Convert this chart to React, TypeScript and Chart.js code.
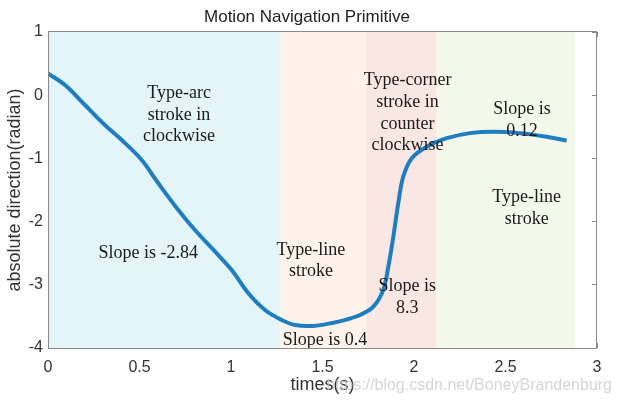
import React, { useEffect, useRef } from "react";
import { Chart, registerables } from "chart.js";

Chart.register(...registerables);

const timeValues = [0, 0.093, 0.202, 0.311, 0.403, 0.512, 0.603, 0.712, 0.803, 0.913, 1.004, 1.095, 1.186, 1.277, 1.35, 1.45, 1.56, 1.63, 1.705, 1.778, 1.832, 1.86, 1.887, 1.914, 1.941, 1.987, 2.069, 2.179, 2.306, 2.433, 2.579, 2.725, 2.834];
const directionValues = [0.346, 0.161, -0.155, -0.472, -0.709, -1.025, -1.394, -1.816, -2.133, -2.476, -2.766, -3.134, -3.399, -3.557, -3.636, -3.65, -3.6, -3.55, -3.478, -3.347, -3.08, -2.71, -2.24, -1.71, -1.29, -1.0, -0.815, -0.68, -0.6, -0.577, -0.6, -0.657, -0.72];

const regionStarts = [0, 1.27, 1.74, 2.12];
const regionEnds = [1.27, 1.74, 2.12, 2.88];
const regionColors = ["#E3F5F9", "#FEF3EB", "#F9E7E3", "#F3F8EB"];

const noteTexts = [
  ["Type-arc", "stroke in", "clockwise"],
  ["Slope is -2.84"],
  ["Type-line", "stroke"],
  ["Slope is 0.4"],
  ["Type-corner", "stroke in", "counter", "clockwise"],
  ["Slope is", "8.3"],
  ["Slope is", "0.12"],
  ["Type-line", "stroke"],
];
const noteX = [0.716, 0.548, 1.437, 1.514, 1.965, 1.963, 2.59, 2.616];
const noteY = [0.03, -2.5, -2.45, -3.87, 0.23, -3.03, -0.22, -1.616];

const xTicks = [0, 0.5, 1, 1.5, 2, 2.5, 3];
const yTicks = [-4, -3, -2, -1, 0, 1];

const titleText = "Motion Navigation Primitive";
const xLabel = "times(s)";
const yLabel = "absolute direction(radian)";
const watermark = "https://blog.csdn.net/BoneyBrandenburg";

const axisColor = "#333333";
const boxColor = "#8a8a8a";
const sans = '"Liberation Sans", Arial, sans-serif';

export default function App() {
  const ref = useRef<HTMLCanvasElement | null>(null);
  useEffect(() => {
    document.body.style.margin = "0";
    const canvas = ref.current!;
    const bgPlugin = {
      id: "bgRegions",
      beforeDatasetsDraw(chart: any) {
        const { ctx, chartArea, scales } = chart;
        ctx.save();
        for (let i = 0; i < regionStarts.length; i++) {
          const x1 = scales.x.getPixelForValue(regionStarts[i]);
          const x2 = scales.x.getPixelForValue(regionEnds[i]);
          ctx.fillStyle = regionColors[i];
          ctx.fillRect(x1, chartArea.top, x2 - x1, chartArea.bottom - chartArea.top);
        }
        ctx.restore();
      },
    };
    const textPlugin = {
      id: "notes",
      afterDatasetsDraw(chart: any) {
        const { ctx, scales, chartArea } = chart;
        ctx.save();
        ctx.font = '18px "Liberation Serif", "Times New Roman", serif';
        ctx.fillStyle = "#1a1a1a";
        ctx.textAlign = "center";
        ctx.textBaseline = "middle";
        for (let i = 0; i < noteTexts.length; i++) {
          const cx = scales.x.getPixelForValue(noteX[i]);
          const cy = scales.y.getPixelForValue(noteY[i]);
          noteTexts[i].forEach((t, j) => ctx.fillText(t, cx, cy + j * 21.7));
        }
        ctx.strokeStyle = boxColor;
        ctx.lineWidth = 1;
        ctx.strokeRect(chartArea.left + 0.5, chartArea.top - 0.5, chartArea.right - chartArea.left - 1, chartArea.bottom - chartArea.top + 1);
        ctx.restore();
      },
      afterDraw(chart: any) {
        const { ctx } = chart;
        ctx.save();
        ctx.font = '17px ' + sans;
        ctx.fillStyle = "#222222";
        ctx.textAlign = "center";
        ctx.textBaseline = "middle";
        ctx.fillText(titleText, 307, 17);
        ctx.font = '16px ' + sans;
        ctx.fillStyle = "rgba(200,200,200,0.75)";
        ctx.textAlign = "right";
        ctx.fillText(watermark, 612, 386);
        ctx.restore();
      },
    };
    const tickFont = { family: sans, size: 16 };
    const chart = new Chart(canvas, {
      type: "line",
      data: {
        datasets: [
          {
            data: timeValues.map((t, i) => ({ x: t, y: directionValues[i] })),
            borderColor: "#1F7EC1",
            borderWidth: 4,
            pointRadius: 0,
            tension: 0.35,
            fill: false,
          },
        ],
      },
      options: {
        animation: false,
        responsive: false,
        layout: { padding: 0 },
        plugins: { legend: { display: false }, tooltip: { enabled: false }, title: { display: false } },
        scales: {
          x: {
            type: "linear",
            min: 0,
            max: 3,
            afterBuildTicks: (s: any) => { s.ticks = xTicks.map((v) => ({ value: v })); },
            afterFit: (s: any) => { s.height = 62; },
            ticks: { color: axisColor, font: tickFont, padding: 15, maxRotation: 0, callback: (v: any) => String(v) },
            grid: { drawOnChartArea: false, tickLength: -5, color: boxColor },
            border: { display: false },
            title: { display: true, text: xLabel, color: axisColor, font: { family: sans, size: 18 }, padding: { top: 0, bottom: 14 } },
          },
          x2: {
            type: "linear",
            position: "top",
            min: 0,
            max: 3,
            afterBuildTicks: (s: any) => { s.ticks = xTicks.map((v) => ({ value: v })); },
            afterFit: (s: any) => { s.height = 32; },
            ticks: { display: false },
            grid: { drawOnChartArea: false, tickLength: -5, color: boxColor },
            border: { display: false },
          },
          y: {
            type: "linear",
            min: -4,
            max: 1,
            afterBuildTicks: (s: any) => { s.ticks = yTicks.map((v) => ({ value: v })); },
            afterFit: (s: any) => { s.width = 48; },
            ticks: { color: axisColor, font: tickFont, padding: 10, callback: (v: any) => String(v) },
            grid: { drawOnChartArea: false, tickLength: -5, color: boxColor },
            border: { display: false },
            title: { display: true, text: yLabel, color: axisColor, font: { family: sans, size: 18 }, padding: { top: 4, bottom: 0 } },
          },
          y2: {
            type: "linear",
            position: "right",
            min: -4,
            max: 1,
            afterBuildTicks: (s: any) => { s.ticks = yTicks.map((v) => ({ value: v })); },
            afterFit: (s: any) => { s.width = 24; },
            ticks: { display: false },
            grid: { drawOnChartArea: false, tickLength: -5, color: boxColor },
            border: { display: false },
          },
        },
      } as any,
      plugins: [bgPlugin, textPlugin],
    });
    return () => chart.destroy();
  }, []);
  return (
    <div style={{ position: "absolute", left: 0, top: 0, width: 621, height: 410 }}>
      <canvas ref={ref} width={621} height={410} style={{ width: 621, height: 410 }} />
    </div>
  );
}
